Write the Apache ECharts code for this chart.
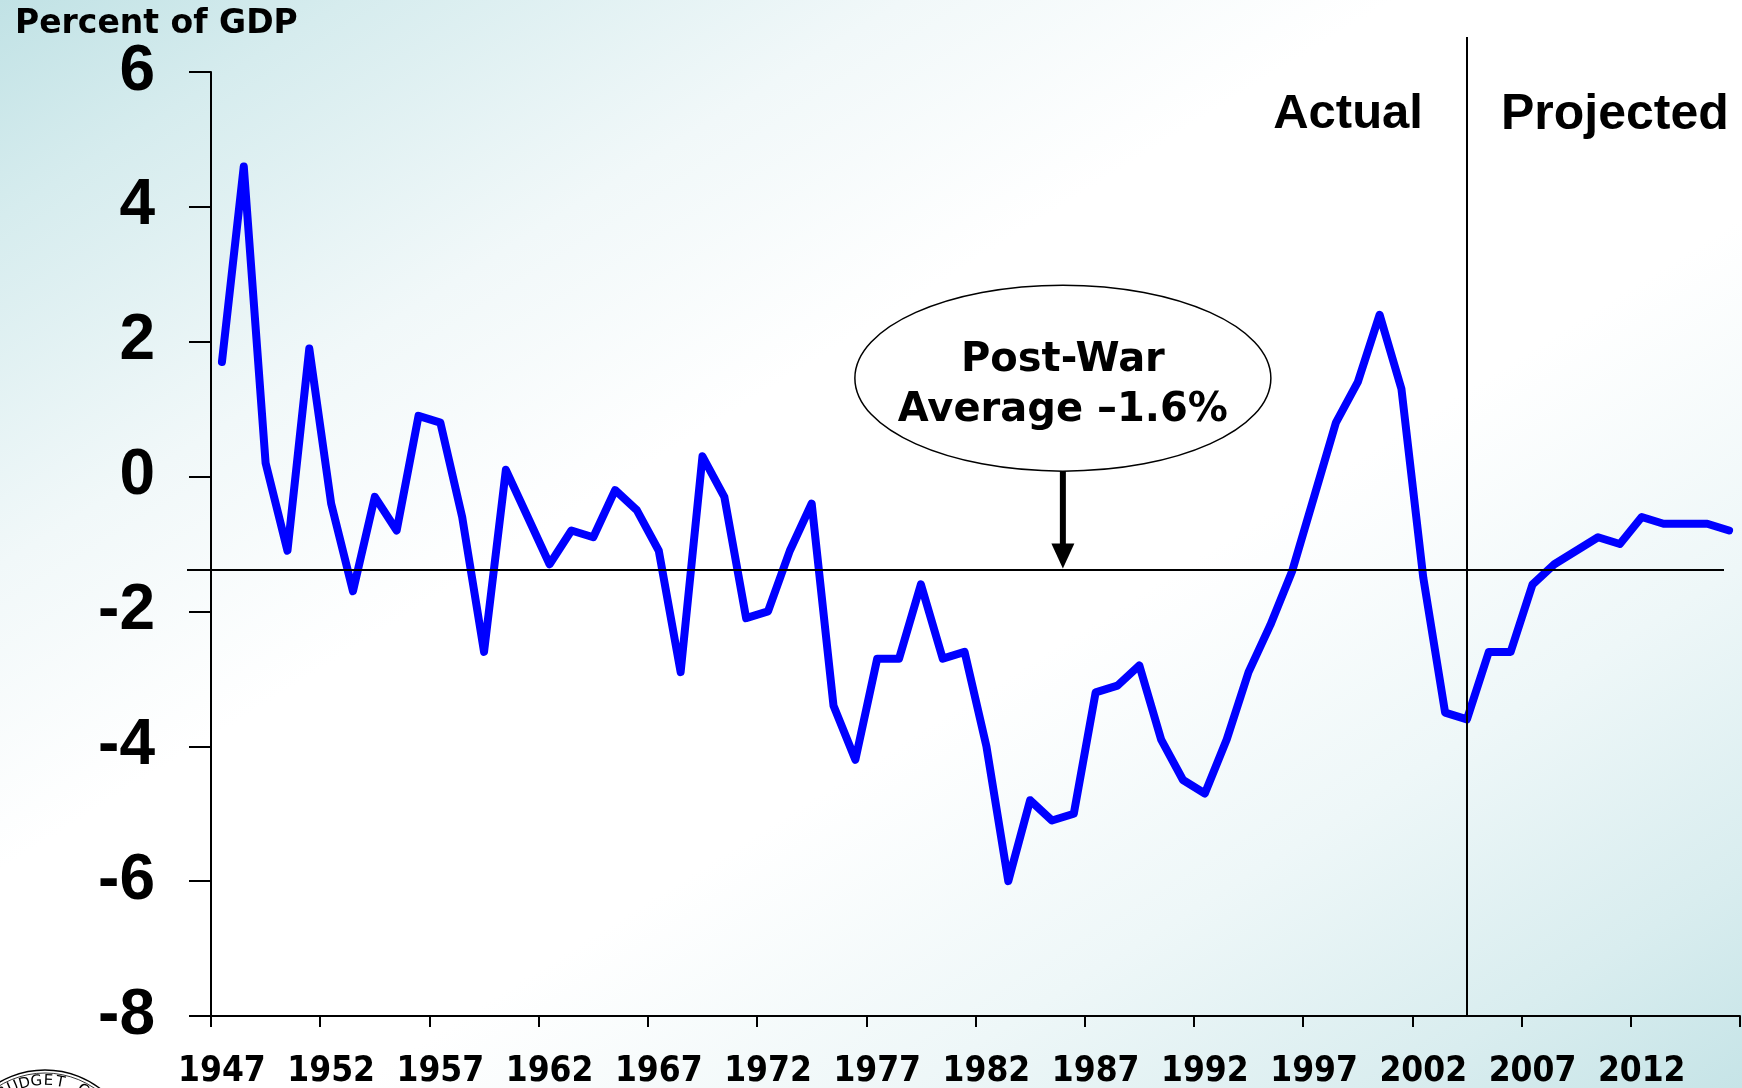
<!DOCTYPE html>
<html>
<head>
<meta charset="utf-8">
<script src="https://cdn.jsdelivr.net/npm/echarts@6/dist/echarts.min.js"></script>
<style>
html,body{margin:0;padding:0;width:1742px;height:1088px;overflow:hidden;}
#chart{width:1742px;height:1088px;
 background:linear-gradient(to bottom right,#c1e2e5 0%,#d6ecee 10%,#f1f8f9 26%,#ffffff 40%,#ffffff 60%,#eef7f8 76%,#d9edef 90%,#c6e4e7 100%);}
</style>
</head>
<body>
<div id="chart"></div>
<script>
// ---------------- data ----------------
const years = [
 '1947','1948','1949','1950','1951','1952','1953','1954','1955','1956',
 '1957','1958','1959','1960','1961','1962','1963','1964','1965','1966',
 '1967','1968','1969','1970','1971','1972','1973','1974','1975','1976',
 '1977','1978','1979','1980','1981','1982','1983','1984','1985','1986',
 '1987','1988','1989','1990','1991','1992','1993','1994','1995','1996',
 '1997','1998','1999','2000','2001','2002','2003','2004','2005','2006',
 '2007','2008','2009','2010','2011','2012','2013','2014','2015','2016'
];
const budgetBalance = [
  1.7,  4.6,  0.2, -1.1,  1.9, -0.4, -1.7, -0.3, -0.8,  0.9,
  0.8, -0.6, -2.6,  0.1, -0.6, -1.3, -0.8, -0.9, -0.2, -0.5,
 -1.1, -2.9,  0.3, -0.3, -2.1, -2.0, -1.1, -0.4, -3.4, -4.2,
 -2.7, -2.7, -1.6, -2.7, -2.6, -4.0, -6.0, -4.8, -5.1, -5.0,
 -3.2, -3.1, -2.8, -3.9, -4.5, -4.7, -3.9, -2.9, -2.2, -1.4,
 -0.3,  0.8,  1.4,  2.4,  1.3, -1.5, -3.5, -3.6, -2.6, -2.6,
 -1.6, -1.3, -1.1, -0.9, -1.0, -0.6, -0.7, -0.7, -0.7, -0.8
];
const yTicks = [-8, -6, -4, -2, 0, 2, 4, 6];
const averageLineValue = -1.38;
const dividerYear = '2004';
const calloutYears = ['1985', '1986'];
const calloutCenterValue = 1.46;
const calloutLines = ['Post-War', 'Average \u20131.6%'];
const periodLabels = ['Actual', 'Projected'];
const axisTitle = 'Percent of GDP';
const sealText = 'BUDGET CO';

// ---------------- layout ----------------
const GRID = {left: 211, top: 72, width: 1529, height: 944};

const chart = echarts.init(document.getElementById('chart'), null, {renderer: 'canvas'});

chart.setOption({
  animation: false,
  backgroundColor: 'transparent',
  grid: Object.assign({outerBoundsMode: 'none', containLabel: false}, GRID),
  xAxis: {
    type: 'category',
    data: years,
    boundaryGap: true,
    axisLine: {show: true, onZero: false, lineStyle: {color: '#000', width: 2}},
    axisTick: {show: true, interval: 4, length: 11, lineStyle: {color: '#000', width: 2}},
    axisLabel: {interval: 4, color: '#000', fontFamily: '"DejaVu Sans Condensed", "DejaVu Sans"', fontWeight: 'bold', fontSize: 35, margin: 38},
    splitLine: {show: false}
  },
  yAxis: {
    type: 'value',
    min: yTicks[0],
    max: yTicks[yTicks.length - 1],
    interval: yTicks[1] - yTicks[0],
    axisLine: {show: true, lineStyle: {color: '#000', width: 2}},
    axisTick: {show: true, length: 22, lineStyle: {color: '#000', width: 2}},
    axisLabel: {color: '#000', fontFamily: 'Liberation Sans', fontWeight: 'bold', fontSize: 64, margin: 56, padding: [10, 0, 0, 0]},
    splitLine: {show: false}
  },
  series: [{
    type: 'line',
    data: budgetBalance,
    symbol: 'none',
    clip: false,
    lineStyle: {color: '#0000ff', width: 8, cap: 'round', join: 'round'},
    markLine: {
      silent: true,
      symbol: 'none',
      label: {show: false},
      lineStyle: {color: '#000', type: 'solid', width: 2},
      data: [
        [{x: GRID.left - 24, yAxis: averageLineValue}, {x: GRID.left + GRID.width - 16, yAxis: averageLineValue}],
        [{xAxis: dividerYear, y: GRID.top - 35}, {xAxis: dividerYear, yAxis: yTicks[0]}]
      ]
    }
  }]
});

// ---------------- annotations (positioned via the chart's scales) ----------------
const toX = c => chart.convertToPixel({xAxisIndex: 0}, c);
const toY = v => chart.convertToPixel({yAxisIndex: 0}, v);

const cx = (toX(calloutYears[0]) + toX(calloutYears[1])) / 2;
const cy = toY(calloutCenterValue);
const rx = 208, ry = 93;
const avgY = toY(averageLineValue);
const divX = toX(dividerYear);

const graphics = [
  {type: 'text', z: 100, style: {text: axisTitle, x: 15, y: 24, fill: '#000',
    font: 'bold 33px "DejaVu Sans"', align: 'left', verticalAlign: 'middle'}},
  {type: 'ellipse', z: 100, shape: {cx: cx, cy: cy, rx: rx, ry: ry},
    style: {fill: '#ffffff', stroke: '#000', lineWidth: 1.5}},
  {type: 'text', z: 101, style: {text: calloutLines[0], x: cx, y: cy - 18, fill: '#000',
    font: 'bold 40px "DejaVu Sans"', align: 'center', verticalAlign: 'middle'}},
  {type: 'text', z: 101, style: {text: calloutLines[1], x: cx, y: cy + 32, fill: '#000',
    font: 'bold 40px "DejaVu Sans"', align: 'center', verticalAlign: 'middle'}},
  {type: 'line', z: 100, shape: {x1: cx, y1: cy + ry, x2: cx, y2: avgY - 22},
    style: {stroke: '#000', lineWidth: 6}},
  {type: 'polygon', z: 100, shape: {points: [[cx - 11.5, avgY - 26], [cx + 11.5, avgY - 26], [cx, avgY - 1]]},
    style: {fill: '#000'}},
  {type: 'text', z: 100, style: {text: periodLabels[0], x: divX - 44, y: 114, fill: '#000',
    font: 'bold 49px "Liberation Sans"', align: 'right', verticalAlign: 'middle'}},
  {type: 'text', z: 100, style: {text: periodLabels[1], x: divX + 34, y: 115, fill: '#000',
    font: 'bold 50px "Liberation Sans"', align: 'left', verticalAlign: 'middle'}}
];

// partial seal at the bottom-left corner
const sealC = [45, 1161];
graphics.push({type: 'circle', z: 100, shape: {cx: sealC[0], cy: sealC[1], r: 91},
  style: {fill: 'none', stroke: '#000', lineWidth: 1.4}});
graphics.push({type: 'circle', z: 100, shape: {cx: sealC[0], cy: sealC[1], r: 88},
  style: {fill: 'none', stroke: '#000', lineWidth: 0.8}});
graphics.push({type: 'circle', z: 100, shape: {cx: sealC[0], cy: sealC[1], r: 68},
  style: {fill: 'none', stroke: '#000', lineWidth: 1}});
const startDeg = -122, stepDeg = 8.6, rText = 80;
for (let i = 0; i < sealText.length; i++) {
  const a = (startDeg + i * stepDeg) * Math.PI / 180;
  graphics.push({type: 'text', z: 100,
    x: sealC[0] + rText * Math.cos(a), y: sealC[1] + rText * Math.sin(a),
    rotation: -(a + Math.PI / 2),
    style: {text: sealText[i], x: 0, y: 0, fill: '#000', font: '15px "DejaVu Sans"',
      align: 'center', verticalAlign: 'middle'}});
}

chart.setOption({graphic: graphics});
</script>
</body>
</html>
